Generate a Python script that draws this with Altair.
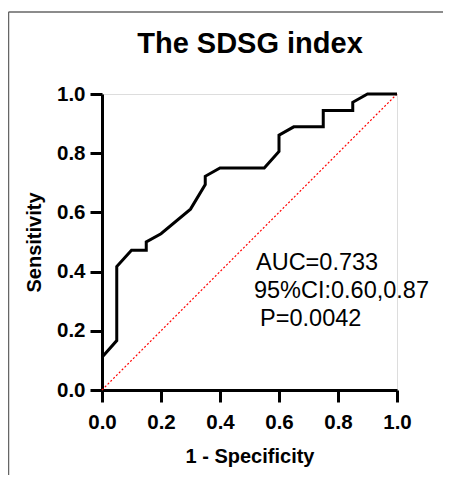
import altair as alt
import pandas as pd

# ROC curve points (1 - specificity, sensitivity)
fpr = [0.0, 0.05, 0.05, 0.10, 0.15, 0.15, 0.20, 0.30, 0.35, 0.35, 0.40, 0.55, 0.60, 0.60, 0.65, 0.75, 0.75, 0.85, 0.85, 0.90, 1.0]
tpr = [0.111, 0.167, 0.417, 0.472, 0.472, 0.500, 0.528, 0.611, 0.694, 0.722, 0.750, 0.750, 0.806, 0.861, 0.889, 0.889, 0.944, 0.944, 0.972, 1.0, 1.0]

ref_x = [0.0, 1.0]
ref_y = [0.0, 1.0]

ticks = [0.0, 0.2, 0.4, 0.6, 0.8, 1.0]

title_text = "The SDSG index"
ann_lines = ["AUC=0.733", "95%CI:0.60,0.87", "P=0.0042"]

FONT = "Liberation Sans"

roc = pd.DataFrame({"fpr": fpr, "tpr": tpr, "order": list(range(len(fpr)))})
ref = pd.DataFrame({"fpr": ref_x, "tpr": ref_y})

xscale = alt.Scale(domain=[0, 1], nice=False, zero=False)
yscale = alt.Scale(domain=[0, 1], nice=False, zero=False)

xaxis = alt.Axis(values=ticks, format=".1f", title="1 - Specificity", grid=False,
                 domainColor="black", domainWidth=3, tickColor="black", tickWidth=3, tickSize=12,
                 labelFont=FONT, labelFontSize=20.5, labelFontWeight="bold", labelColor="black",
                 labelPadding=10, titleFont=FONT, titleFontSize=20, titleFontWeight="bold",
                 titleColor="black", titlePadding=14, labelFlush=False)
yaxis = alt.Axis(values=ticks, format=".1f", title="Sensitivity", grid=False,
                 domainColor="black", domainWidth=3, tickColor="black", tickWidth=3, tickSize=12,
                 labelFont=FONT, labelFontSize=20.5, labelFontWeight="bold", labelColor="black",
                 labelPadding=5, titleFont=FONT, titleFontSize=20, titleFontWeight="bold",
                 titleColor="black", titlePadding=12, labelFlush=False)

one = pd.DataFrame({"a": [0]})

# figure frame (only its top and left edges fall inside the picture)
frame_top = alt.Chart(one).mark_rule(color="#666666", strokeWidth=1.5, clip=False).encode(
    x=alt.value(-93.5), x2=alt.value(341), y=alt.value(-82))
frame_left = alt.Chart(one).mark_rule(color="#666666", strokeWidth=1.5, clip=False).encode(
    x=alt.value(-93.5), y=alt.value(-82), y2=alt.value(381))

title = alt.Chart(one).mark_text(
    font=FONT, fontSize=29, fontWeight="bold", color="black", align="center",
    baseline="alphabetic", clip=False
).encode(x=alt.value(148), y=alt.value(-41), text=alt.value(title_text))

diag = alt.Chart(ref).mark_line(color="red", strokeWidth=1.2, strokeDash=[2, 2]).encode(
    x=alt.X("fpr:Q", scale=xscale, axis=xaxis),
    y=alt.Y("tpr:Q", scale=yscale, axis=yaxis),
)

curve = alt.Chart(roc).mark_line(color="black", strokeWidth=3, strokeJoin="miter").encode(
    x=alt.X("fpr:Q", scale=xscale),
    y=alt.Y("tpr:Q", scale=yscale),
    order="order:Q",
)

ann_pos = [(0.522, 0.405), (0.515, 0.311), (0.536, 0.216)]
texts = []
for line, (ax, ay) in zip(ann_lines, ann_pos):
    texts.append(
        alt.Chart(one).mark_text(
            font=FONT, fontSize=23.5, color="black", align="left", baseline="alphabetic", clip=False
        ).encode(x=alt.datum(ax), y=alt.datum(ay), text=alt.value(line))
    )

chart = alt.layer(frame_top, frame_left, title, diag, curve, *texts).properties(
    width=295, height=296,
    autosize=alt.AutoSizeParams(type="none"),
    padding={"left": 94, "top": 86, "right": 46, "bottom": 85},
).configure_view(stroke=None).configure(background="white")

chart.save("out.html", embed_options={"renderer": "svg", "actions": False})
